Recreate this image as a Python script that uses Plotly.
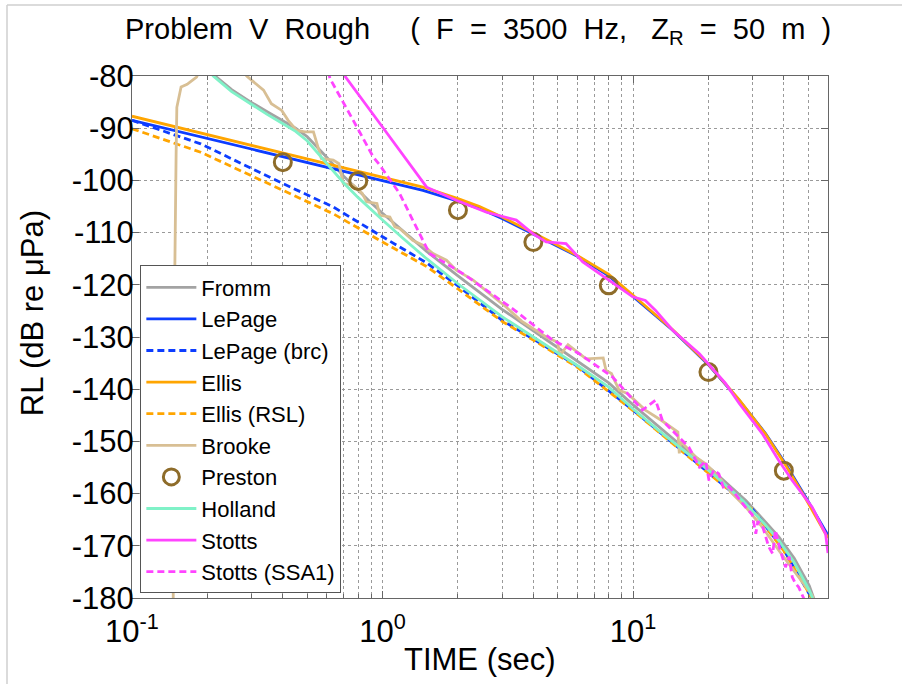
import plotly.graph_objects as go

# ---------------- data ----------------
fromm_t = [0.18, 0.211, 0.25, 0.296, 0.345, 0.39, 0.45, 0.5, 0.6, 0.7, 0.8, 0.9, 1.0, 1.2, 1.5, 2.0, 2.5, 3.0,
           4.0, 5.0, 6.1, 8.0, 10.0, 12.5, 15.3, 20.8, 25, 28.2, 33, 38.2, 44, 50.5, 53.5]
fromm_rl = [-75, -79.7, -82.6, -84.9, -86.8, -88.3, -90.0, -91.6, -95.6, -99.2, -102.0, -104.3, -106.3, -109.6,
            -113.6, -118.3, -121.9, -124.7, -128.8, -132.0, -134.8, -138.8, -143.0, -147.0, -150.5, -155.6,
            -159.0, -161.3, -164.9, -168.3, -172.4, -177.6, -181]

lepage_t = [0.1, 0.2, 0.4, 0.7, 1.0, 1.45, 2.0, 2.44, 3.0, 3.74, 5.0, 6.1, 8.0, 10, 14.4, 19.8, 26.5, 33.8,
            40.6, 48.9, 60]
lepage_rl = [-88.5, -92.0, -95.5, -98.3, -100.0, -101.9, -104.0, -105.4, -107.3, -109.6, -112.7, -114.7,
             -118.3, -122.3, -128.7, -135.1, -142.1, -148.5, -154.3, -160.7, -168.0]

lepage_brc_t = [0.1, 0.188, 0.4, 0.636, 1.0, 1.5, 2.0, 3.0, 4.0, 6.0, 10, 15, 20, 30, 40, 50, 53]
lepage_brc_rl = [-88.5, -93.0, -100.6, -105.1, -110.8, -115.8, -120.2, -126.8, -130.4, -135.6, -144.0,
                 -151.0, -156.0, -163.0, -170.8, -178.7, -181]

ellis_t = [0.1, 0.2, 0.4, 0.7, 1.0, 1.45, 2.0, 2.44, 3.0, 3.74, 5.0, 6.1, 8.0, 10, 14.4, 19.8, 26.5, 33.8,
           40.6, 48.9, 60]
ellis_rl = [-87.7, -91.2, -94.7, -97.5, -99.3, -101.3, -103.5, -105.0, -107.0, -109.3, -112.4, -114.6,
            -118.0, -122.0, -128.6, -135.0, -142.0, -148.6, -154.5, -161.0, -168.5]

ellis_rsl_t = [0.1, 0.188, 0.4, 0.636, 1.0, 1.5, 2.0, 3.0, 4.0, 6.0, 10, 15, 20, 30, 40, 50, 53]
ellis_rsl_rl = [-90.1, -94.6, -101.9, -106.4, -111.8, -116.5, -120.8, -127.0, -130.6, -135.8, -144.1,
                -151.2, -156.1, -163.1, -171.0, -178.8, -181]

brooke_t = [0.146, 0.148, 0.150, 0.151, 0.157, 0.166, 0.181, 0.19, 0.25, 0.287, 0.30, 0.335, 0.36, 0.396,
            0.42, 0.454, 0.49, 0.53, 0.563, 0.57, 0.636, 0.67, 0.697, 0.764, 0.83, 0.863, 0.95, 0.975, 1.07,
            1.12, 1.17, 1.32, 1.45, 1.59, 1.8, 1.97, 2.3, 2.67, 3.12, 3.6, 4.5, 5.0, 5.1, 5.5, 6.5, 7.6, 7.8,
            8.2, 8.8, 9.5, 11.2, 13.0, 15.1, 15.3, 15.5, 17.8, 19.5, 22, 24.9, 28.2, 32.8, 38.2, 44.6, 51.9,
            54]
brooke_rl = [-182, -120, -95, -86, -82.1, -81.6, -80.2, -78, -76, -80, -80.8, -82.7, -85.3, -86.6, -88.5,
             -90.4, -90.7, -90.7, -94.9, -95.8, -96.1, -96.8, -100.6, -100.9, -102.5, -104.1, -104.4, -106.7,
             -107.0, -108.9, -109.2, -111.5, -112.4, -114.0, -115.3, -117.2, -119.1, -121.7, -124.3, -127.0,
             -130.0, -131.0, -133.5, -131.5, -134.2, -134.0, -136.4, -137.0, -140.2, -140.8, -144.0, -146.0,
             -148.2, -152.3, -150.0, -153.0, -154.3, -156.8, -160.0, -162.6, -166.4, -170.9, -175.3, -179.5,
             -182]

preston_t = [0.4, 0.8, 2, 4, 8, 20, 40]
preston_rl = [-96.5, -100.1, -105.7, -111.8, -120.1, -136.7, -155.6]

holland_t = [0.18, 0.211, 0.25, 0.296, 0.345, 0.39, 0.45, 0.5, 0.6, 0.7, 0.8, 0.9, 1.0, 1.2, 1.5, 2.0, 2.5,
             3.0, 4.0, 5.0, 6.1, 8.0, 10.0, 12.5, 15.3, 20.8, 25, 28.2, 33, 38.2, 44, 50.5, 53]
holland_rl = [-75.5, -80, -83, -85.3, -87.3, -88.8, -90.6, -92.4, -96.9, -100.5, -103.3, -105.6, -107.6,
              -111.0, -115.0, -119.8, -123.3, -126.1, -130.0, -133.0, -135.7, -139.6, -143.8, -147.7,
              -151.1, -156.2, -159.6, -161.9, -165.5, -169.0, -173.2, -178.5, -181]

stotts_t = [0.65, 0.707, 0.976, 1.5, 1.97, 2.6, 3.42, 3.98, 4.5, 5.4, 6.3, 8.0, 9.97, 11.2, 12.3, 14.4,
            18.4, 23.4, 26.5, 32.8, 38, 43.2, 51.9, 58.7, 60]
stotts_rl = [-77, -80, -89.1, -101.3, -103.8, -106.1, -107.6, -110.2, -111.8, -112.1, -115.6, -119.1,
             -122.3, -123.0, -124.9, -128.7, -133.2, -138.9, -142.7, -148.5, -153.5, -157.5, -162.6,
             -167.7, -171.4]

stotts_ssa1_t = [0.58, 0.617, 0.764, 0.918, 0.976, 1.17, 1.32, 1.54, 2.1, 3.31, 4.78, 6.1, 8.3, 10.9, 12.3,
                 13.1, 16.7, 18.4, 19.5, 20.1, 21, 22, 23, 24.2, 26, 28, 29.9, 30.9, 31.5, 33, 34.8, 36.1,
                 37, 38.5, 40.6, 42, 43.2, 44.5, 45.8, 47.5, 49]
stotts_ssa1_rl = [-75, -80.5, -88.5, -95.5, -97.1, -102.5, -107.6, -114.0, -117.9, -124.6, -130.6, -133.2,
                  -137.7, -144.0, -142.1, -146.0, -151.1, -154.9, -153.8, -157.5, -155.5, -156.2, -159.0,
                  -158.7, -160.5, -162.5, -164.0, -167.7, -165.3, -166.5, -170.2, -171.5, -167.0, -170.5,
                  -174.1, -172.1, -176.0, -177.2, -177.9, -179.5, -181]

x_major_vals = [0.1, 1, 10]
x_major_text = ["10<sup>-1</sup>", "10<sup>0</sup>", "10<sup>1</sup>"]
x_minor_vals = [0.2, 0.3, 0.4, 0.5, 0.6, 0.7, 0.8, 0.9, 2, 3, 4, 5, 6, 7, 8, 9, 20, 30, 40, 50]
y_tick_vals = [-80, -90, -100, -110, -120, -130, -140, -150, -160, -170, -180]

# ---------------- styles ----------------
FONT = "Liberation Sans, Arial, sans-serif"
LW = 2.8
DASH = "7px,4px"

fig = go.Figure()


def add_line(x, y, name, color, dash="solid"):
    fig.add_trace(go.Scatter(x=x, y=y, mode="lines", name=name,
                             line=dict(color=color, width=LW, dash=dash)))


add_line(fromm_t, fromm_rl, "Fromm", "#a3a3a3")
add_line(lepage_t, lepage_rl, "LePage", "#0d3dff")
add_line(lepage_brc_t, lepage_brc_rl, "LePage (brc)", "#0d3dff", DASH)
add_line(ellis_t, ellis_rl, "Ellis", "#ffa500")
add_line(ellis_rsl_t, ellis_rsl_rl, "Ellis (RSL)", "#ffa500", DASH)
add_line(brooke_t, brooke_rl, "Brooke", "#d8bf94")
fig.add_trace(go.Scatter(x=preston_t, y=preston_rl, mode="markers", name="Preston",
                         marker=dict(symbol="circle-open", size=17, color="#8e6c2a",
                                     line=dict(width=3, color="#8e6c2a"))))
add_line(holland_t, holland_rl, "Holland", "#80f2c8")
add_line(stotts_t, stotts_rl, "Stotts", "#ff44ff")
add_line(stotts_ssa1_t, stotts_ssa1_rl, "Stotts (SSA1)", "#ff44ff", DASH)

axis_common = dict(
    showline=True, linecolor="#666666", linewidth=1, mirror="ticks",
    ticks="inside", ticklen=7, tickcolor="#666666",
    showgrid=True, gridcolor="#9a9a9a", gridwidth=1, griddash="dot",
    zeroline=False, automargin=False,
    tickfont=dict(family=FONT, size=31, color="black"),
)

fig.update_xaxes(
    type="log", range=[-1, 1.7782],
    tickmode="array", tickvals=x_major_vals, ticktext=x_major_text,
    ticklabelstandoff=6,
    minor=dict(tickmode="array", tickvals=x_minor_vals, ticks="inside", ticklen=4,
               tickcolor="#666666", showgrid=True, gridcolor="#9a9a9a", griddash="dot"),
    **axis_common,
)
fig.update_yaxes(
    range=[-180, -80], tickmode="array", tickvals=y_tick_vals,
    ticktext=[str(v) for v in y_tick_vals],
    ticklabelstandoff=-9,
    **axis_common,
)

fig.update_layout(
    width=902, height=684,
    margin=dict(l=132, r=74, t=76, b=86, pad=0, autoexpand=False),
    paper_bgcolor="white", plot_bgcolor="white",
    font=dict(family=FONT, color="black"),
    title=dict(
        text="Problem\u00a0\u00a0V\u00a0\u00a0Rough\u00a0\u00a0\u00a0\u00a0\u00a0(\u00a0\u00a0F\u00a0\u00a0=\u00a0\u00a03500\u00a0\u00a0Hz,"
             "\u00a0\u00a0\u00a0Z<sub>R</sub>\u00a0\u00a0=\u00a0\u00a050\u00a0\u00a0m\u00a0\u00a0)",
        x=0.53, xref="container", xanchor="center",
        y=0.958, yref="container", yanchor="middle",
        font=dict(family=FONT, size=29, color="black"),
    ),
    showlegend=True,
    legend=dict(
        x=0.012, y=0.637, xanchor="left", yanchor="top",
        bgcolor="white", bordercolor="#555555", borderwidth=1,
        font=dict(family=FONT, size=22, color="black"),
        itemwidth=50, tracegroupgap=0,
    ),
    annotations=[
        dict(text="RL (dB re \u03bcPa)", x=-0.142, y=0.546, xref="paper", yref="paper",
             textangle=-90, showarrow=False, xanchor="center", yanchor="middle",
             font=dict(family=FONT, size=31, color="black")),
        dict(text="TIME (sec)", x=0.5, y=-0.118, xref="paper", yref="paper",
             showarrow=False, xanchor="center", yanchor="middle",
             font=dict(family=FONT, size=31, color="black")),
    ],
    shapes=[
        dict(type="line", xref="paper", yref="paper", x0=-0.1796, x1=-0.1796, y0=-0.2, y1=1.136,
             line=dict(color="#cfcfcf", width=1.5)),
        dict(type="line", xref="paper", yref="paper", x0=-0.1796, x1=1.2, y0=1.136, y1=1.136,
             line=dict(color="#cfcfcf", width=1.5)),
    ],
)

fig.write_html("out.html",
               config={"displayModeBar": False},
               post_script="document.body.style.margin='0px';document.body.style.overflow='hidden';")
